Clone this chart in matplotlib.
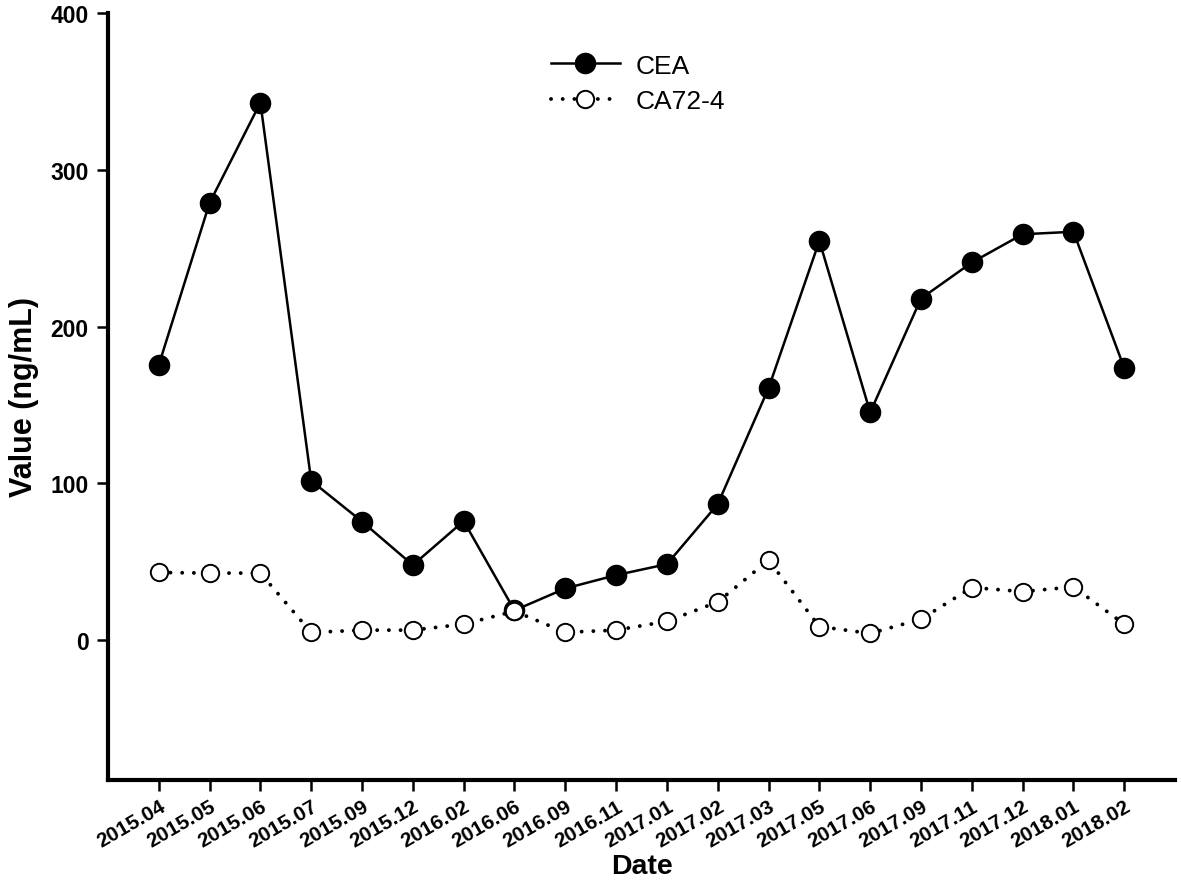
import matplotlib
matplotlib.use("Agg")
import matplotlib.pyplot as plt
import numpy as np

plt.rcParams['font.family'] = ['Liberation Sans', 'DejaVu Sans']

dates = ["2015.04", "2015.05", "2015.06", "2015.07", "2015.09", "2015.12", "2016.02",
         "2016.06", "2016.09", "2016.11", "2017.01", "2017.02", "2017.03", "2017.05",
         "2017.06", "2017.09", "2017.11", "2017.12", "2018.01", "2018.02"]
cea = [175.5, 279, 343, 101.7, 75.7, 47.9, 76, 19, 33, 41.5, 48.5, 86.8, 160.8, 254.8,
       145.3, 218, 241, 259, 260.6, 173.6]
ca724 = [43.2, 42.8, 42.8, 4.9, 6.4, 6.4, 10.2, 18.5, 5, 6.4, 12, 24.4, 51, 8.7,
         4.3, 13.4, 33.6, 31, 34, 10.2]
yticks = [0, 100, 200, 300, 400]

fig = plt.figure(figsize=(11.81, 8.87), dpi=100)
ax = fig.add_axes([0.0914, 0.1199, 0.9036, 0.864])

x = np.arange(len(dates))
ax.plot(x, cea, color='black', lw=1.8, marker='o', markersize=14.5,
        markerfacecolor='black', markeredgecolor='black', label='CEA', zorder=3)
ax.plot(x, ca724, color='black', lw=2.8, linestyle=(0, (0.01, 3.0)), dash_capstyle='round',
        marker='o', markersize=12.5, markerfacecolor='white', markeredgecolor='black',
        markeredgewidth=1.4, label='CA72-4', zorder=4)

ax.set_xlim(-1, len(dates))
ax.set_ylim(-89, 400)
ax.set_yticks(yticks)
ax.set_yticklabels([str(v) for v in yticks], fontsize=16.5, fontweight='bold')
ax.set_xticks(x)
ax.set_xticklabels(dates, rotation=30, ha='right', va='top', rotation_mode='anchor',
                   fontsize=15, fontweight='bold')

for s in ['top', 'right']:
    ax.spines[s].set_visible(False)
for s in ['left', 'bottom']:
    ax.spines[s].set_linewidth(3)
ax.tick_params(axis='both', direction='out', length=8, width=1.8, pad=6)
ax.tick_params(axis='x', pad=4)

ax.set_xlabel('Date', fontsize=20.5, fontweight='bold', labelpad=2)
ax.set_ylabel('Value (ng/mL)', fontsize=22, fontweight='bold', labelpad=8)

leg = ax.legend(loc='upper left', bbox_to_anchor=(0.393, 0.9785), frameon=False,
                fontsize=19, handlelength=2.6, handletextpad=0.6, labelspacing=0.45)

fig.savefig('out.png', dpi=100)
